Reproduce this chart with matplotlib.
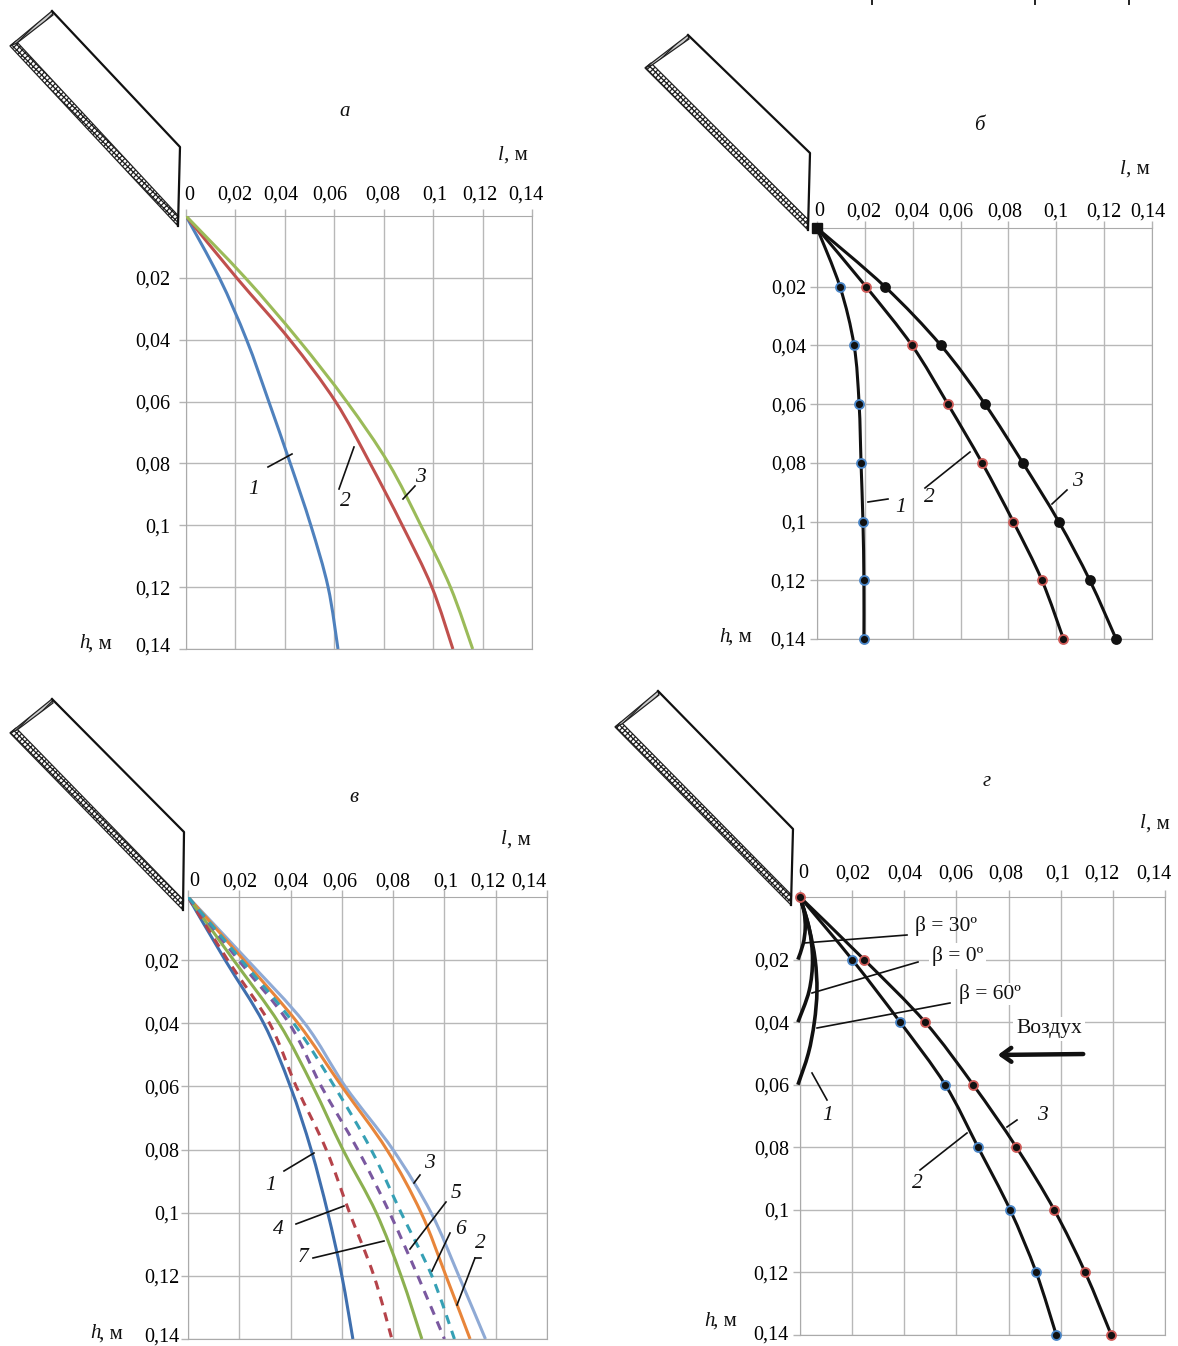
#Libraries
import matplotlib
matplotlib.use('Agg')
import matplotlib.pyplot as plt
from matplotlib.patches import Polygon,PathPatch
from matplotlib.path import Path
from matplotlib.transforms import ScaledTranslation

plt.rcParams['font.family']=['Liberation Serif','DejaVu Serif']
plt.rcParams['hatch.linewidth']=0.9

W,H=1178,1346

#Data (m)
ticks=[0,0.02,0.04,0.06,0.08,0.1,0.12,0.14]
tick_labels=['0','0,02','0,04','0,06','0,08','0,1','0,12','0,14']
h_pts=[0,0.02,0.04,0.06,0.08,0.1,0.12,0.14]

a_1=[0,0.0135,0.0245,0.0335,0.0422,0.0505,0.0575,0.0615]
a_2=[0,0.0205,0.042,0.0605,0.0745,0.0875,0.0995,0.108]
a_3=[0,0.024,0.0455,0.065,0.082,0.095,0.107,0.116]

b_1=[0,0.0096,0.0155,0.0176,0.0184,0.0192,0.0196,0.0196]
b_2=[0,0.0205,0.0397,0.0547,0.069,0.082,0.094,0.103]
b_3=[0,0.0284,0.0518,0.0702,0.086,0.101,0.114,0.125]

v_1=[0,0.0145,0.0295,0.0399,0.048,0.0545,0.06,0.0643]
v_2=[0,0.0218,0.0429,0.06,0.0775,0.0909,0.1006,0.11]
v_3=[0,0.0232,0.0455,0.0613,0.0799,0.0948,0.1056,0.116]
v_4=[0,0.0155,0.0318,0.0422,0.0539,0.063,0.0725,0.0795]
v_5=[0,0.0197,0.0394,0.052,0.0662,0.0786,0.0896,0.1]
v_6=[0,0.0208,0.0412,0.0571,0.0714,0.0831,0.0951,0.1039]
v_7=[0,0.0178,0.0355,0.0487,0.0604,0.0734,0.0831,0.0912]

g_2=[0,0.02,0.0384,0.0557,0.0683,0.0806,0.0906,0.0983]
g_3=[0,0.0246,0.048,0.0664,0.083,0.0975,0.1094,0.1194]
g_beta30_h=[0,0.005,0.01,0.015,0.02]
g_beta30_l=[0,0.0016,0.002,0.0012,-0.0008]
g_beta0_h=[0,0.01,0.02,0.03,0.04]
g_beta0_l=[0,0.0035,0.0048,0.0035,-0.0008]
g_beta60_h=[0,0.01,0.02,0.03,0.04,0.05,0.06]
g_beta60_l=[0,0.0035,0.0058,0.0065,0.0055,0.0032,-0.0008]

fig=plt.figure(figsize=(W/100,H/100),dpi=100)
bg=fig.add_axes([0,0,1,1])
bg.set_xlim(0,W)
bg.set_ylim(H,0)
bg.axis('off')
bg.patch.set_alpha(0)
bg.set_zorder(10)

def panel(x0,x1,y0,y1,x_shift,y_last,top_pad,left_pad):
    ax=fig.add_axes([x0/W,1-y1/H,(x1-x0)/W,(y1-y0)/H])
    ax.set_xlim(0,0.14)
    ax.set_ylim(0.14,0)
    ax.patch.set_alpha(0)
    ax.xaxis.tick_top()
    ax.set_xticks(ticks)
    ax.set_xticklabels(tick_labels,fontsize=14.5)
    ax.set_yticks(ticks[1:])
    ax.set_yticklabels(tick_labels[1:],fontsize=14.5)
    ax.tick_params(axis='x',length=5,width=1,color='#b4b4b4',pad=top_pad)
    ax.tick_params(axis='y',length=5,width=1,color='#b4b4b4',pad=left_pad)
    ax.grid(color='#b8b8b8',lw=1)
    ax.set_axisbelow(True)
    for s in ax.spines.values():
        s.set_color('#aaaaaa')
    #the labels are not evenly spaced in the picture
    for lab,dx in zip(ax.get_xticklabels(),x_shift):
        lab.set_transform(lab.get_transform()+ScaledTranslation(dx/100,0,fig.dpi_scale_trans))
    last=ax.get_yticklabels()[-1]
    last.set_transform(last.get_transform()+ScaledTranslation(0,y_last/100,fig.dpi_scale_trans))
    return ax

#smooth line through the points, like the spreadsheet did it
def curve(ax,xs,ys,color,lw=2.2,ls='-',clip=True):
    pts=list(zip(xs,ys))
    verts=[pts[0]]
    codes=[Path.MOVETO]
    for i in range(len(pts)-1):
        p0=pts[max(i-1,0)]
        p1=pts[i]
        p2=pts[i+1]
        p3=pts[min(i+2,len(pts)-1)]
        c1=(p1[0]+(p2[0]-p0[0])/6,p1[1]+(p2[1]-p0[1])/6)
        c2=(p2[0]-(p3[0]-p1[0])/6,p2[1]-(p3[1]-p1[1])/6)
        verts+=[c1,c2,p2]
        codes+=[Path.CURVE4,Path.CURVE4,Path.CURVE4]
    ax.add_patch(PathPatch(Path(verts,codes),fc='none',ec=color,lw=lw,ls=ls,clip_on=clip,zorder=3))

def dots(ax,xs,ys,edge):
    ax.plot(xs,ys,ls='none',marker='o',ms=6.5,mfc='#111111',mec=edge,mew=1.3,clip_on=False,zorder=4)

def hopper(top,left,right,bottom):
    #hatched wall at the bottom and at the top
    wall=[left,bottom,(bottom[0]+0.5,bottom[1]-10),(left[0]+6,left[1]-5)]
    bg.add_patch(Polygon(wall,closed=True,facecolor='white',edgecolor='#222222',lw=0.9,hatch='xxxxxx'))
    end=[left,top,(top[0]+1,top[1]+4),(left[0]+7,left[1]-3)]
    bg.add_patch(Polygon(end,closed=True,facecolor='#cccccc',edgecolor='#222222',lw=0.9,hatch='/////'))
    #outline
    bg.plot([top[0],right[0],bottom[0]],[top[1],right[1],bottom[1]],color='#111111',lw=1.6)

def note(x,y,s,size=15.5,style='italic'):
    bg.text(x,y,s,fontsize=size,style=style,ha='center',va='center',color='#111111')

def axis_name(x,y,s):
    bg.text(x,y,s,fontsize=15,style='italic',va='center',color='#111111')
    bg.text(x+(6 if s=='l' else 9),y,', м',fontsize=15,va='center',color='#111111')

def leader(x,y,xx,yy):
    bg.plot([x,xx],[y,yy],color='#111111',lw=1.2)

#Panel a
ax=panel(186,532,216,649,[3,-1,-4,-4,-1,2,-3,-6],4,3,6)
curve(ax,a_1,h_pts,'#4f81bd')
curve(ax,a_2,h_pts,'#c0504d')
curve(ax,a_3,h_pts,'#9bbb59')
hopper((52,11),(10,46),(180,147),(178,226))
note(345,112,'а',15)
axis_name(498,155,'l')
axis_name(79,644,'h')
note(254,489,'1')
note(345,502,'2')
note(420,477,'3')
leader(268,467,292,454)
leader(339,489,354,447)
leader(403,499,415,486)

#Panel b
ax=panel(817,1152,228,639,[2,-1,-1,-5,-4,0,0,-4],0,0,3)
curve(ax,b_1,h_pts,'#111111')
curve(ax,b_2,h_pts,'#111111')
curve(ax,b_3,h_pts,'#111111')
dots(ax,b_1[1:],h_pts[1:],'#4a86c8')
dots(ax,b_2[1:],h_pts[1:],'#cf5b58')
dots(ax,b_3[1:],h_pts[1:],'#111111')
ax.plot(b_1[:1],h_pts[:1],ls='none',marker='s',ms=6.5,color='#111111',clip_on=False,zorder=4)
hopper((688,35),(645,68),(810,153),(808,230))
note(979,126,'б',15)
axis_name(1120,169,'l')
axis_name(719,637,'h')
note(901,507,'1')
note(929,498,'2')
note(1077,482,'3')
leader(868,502,888,499)
leader(925,488,970,452)
leader(1052,504,1067,490)

#Panel v
dash=(0,(3,2.4))
ax=panel(188,547,897,1339,[6,1,0,-2,0,1,-8,-18],4,-1,1)
curve(ax,v_1,h_pts,'#3f6fae')
curve(ax,v_3,h_pts,'#8faad5')
curve(ax,v_2,h_pts,'#e8853a')
curve(ax,v_7,h_pts,'#8cb050')
curve(ax,v_4,h_pts,'#b5434a',ls=dash)
curve(ax,v_5,h_pts,'#7a58a0',ls=dash)
curve(ax,v_6,h_pts,'#36a0b5',ls=dash)
hopper((52,699),(10,733),(184,832),(183,910))
note(354,797,'в',15)
axis_name(501,840,'l')
axis_name(90,1334,'h')
note(271,1185,'1')
note(278,1229,'4')
note(303,1258,'7')
note(429,1163,'3')
note(456,1193,'5')
note(461,1229,'6')
note(480,1243,'2')
leader(284,1171,314,1153)
leader(296,1224,344,1206)
leader(313,1258,384,1241)
leader(414,1183,420,1175)
leader(410,1249,446,1202)
leader(432,1271,450,1233)
leader(457,1305,475,1258)
leader(475,1258,481,1258)

#Panel g
ax=panel(800,1165,897,1335,[3,1,1,-1,-3,-3,-11,-11],2,5,3)
curve(ax,g_2,h_pts,'#111111')
curve(ax,g_3,h_pts,'#111111')
dots(ax,g_2[1:],h_pts[1:],'#4a86c8')
dots(ax,g_3,h_pts,'#cf5b58')
curve(ax,g_beta30_l,g_beta30_h,'#111111',lw=2.6,clip=False)
curve(ax,g_beta0_l,g_beta0_h,'#111111',lw=2.6,clip=False)
curve(ax,g_beta60_l,g_beta60_h,'#111111',lw=2.6,clip=False)
hopper((658,691),(615,727),(793,829),(791,905))
note(987,781,'г',15)
axis_name(1140,824,'l')
axis_name(704,1321,'h')
bg.text(915,926,'β = 30º',fontsize=15.5,va='center',color='#111111')
bg.text(932,956,'β = 0º',fontsize=15.5,va='center',color='#111111',bbox=dict(fc='white',ec='none',pad=2))
bg.text(959,994,'β = 60º',fontsize=15.5,va='center',color='#111111',bbox=dict(fc='white',ec='none',pad=1))
bg.text(1016,1029,'Воздух',fontsize=15.5,va='center',color='#111111',bbox=dict(fc='white',ec='none',pad=2))
leader(804,943,907,935)
leader(812,993,918,962)
leader(817,1028,950,1003)
leader(812,1073,827,1100)
leader(920,1170,967,1133)
leader(1007,1127,1017,1120)
bg.annotate('',xy=(995,1055),xytext=(1086,1054),arrowprops=dict(arrowstyle='->,head_length=0.7,head_width=0.5',lw=3.2,color='#111111'))
note(828,1116,'1')
note(917,1184,'2')
note(1042,1115,'3')

#remains of a cropped line of text at the top edge
for x in (872,1035,1129):
    bg.plot([x,x],[0,4],color='#222222',lw=1.4)

fig.savefig('out.png',dpi=100)
